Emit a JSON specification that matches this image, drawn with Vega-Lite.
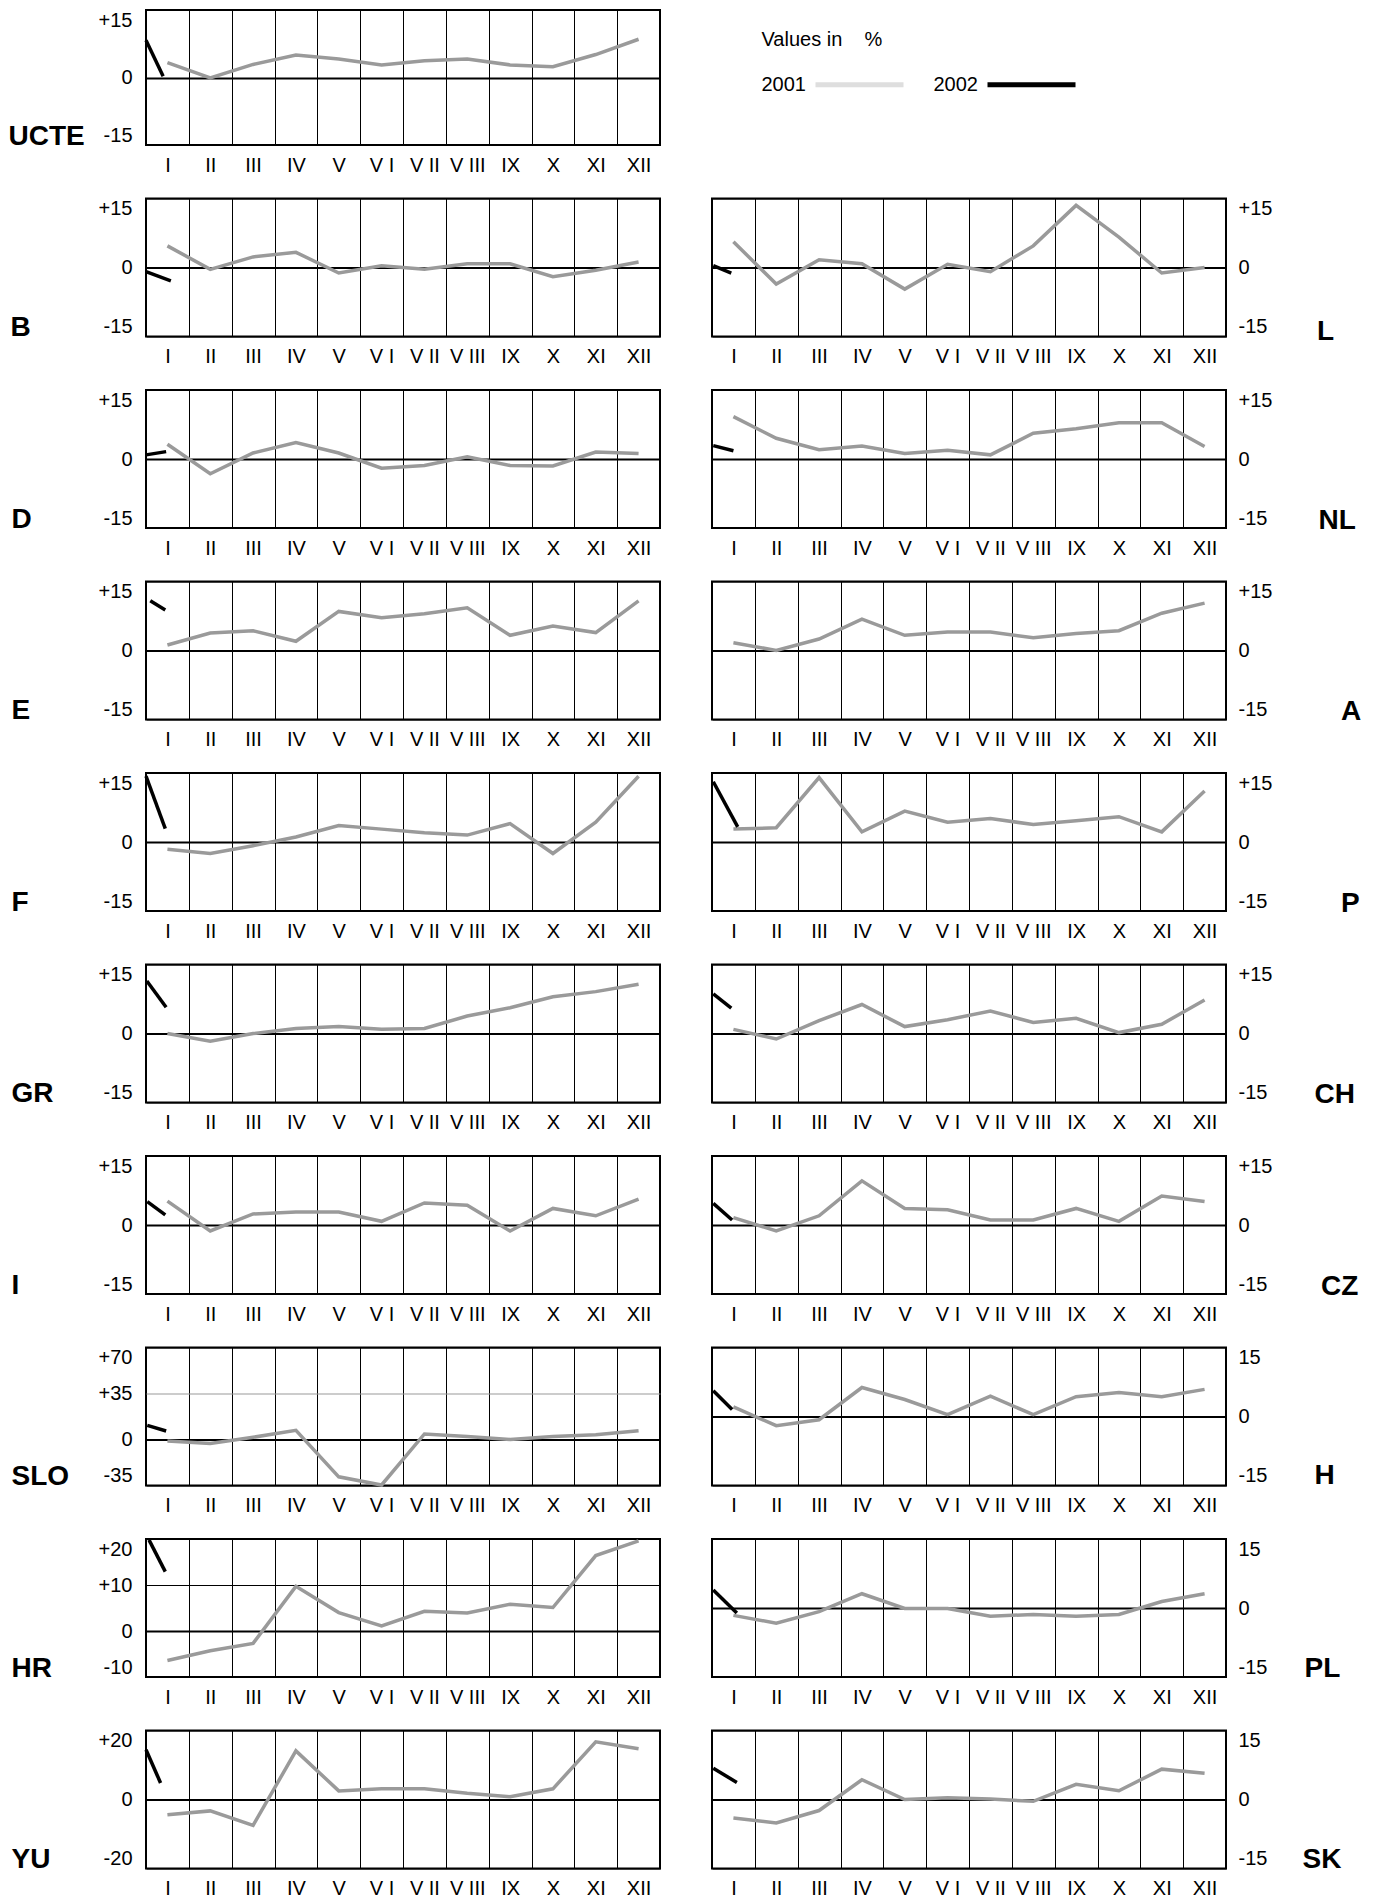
{
"$schema": "https://vega.github.io/schema/vega-lite/v6.json",
"padding": {"left": 7, "top": 9, "right": 0, "bottom": 0},
"background": "white",
"datasets": {
"d": [
{"c":"UCTE","s":"2001","m":1,"v":3.3},{"c":"UCTE","s":"2001","m":2,"v":-0.1},{"c":"UCTE","s":"2001","m":3,"v":2.9},{"c":"UCTE","s":"2001","m":4,"v":5.0},{"c":"UCTE","s":"2001","m":5,"v":4.1},{"c":"UCTE","s":"2001","m":6,"v":2.8},{"c":"UCTE","s":"2001","m":7,"v":3.7},{"c":"UCTE","s":"2001","m":8,"v":4.1},{"c":"UCTE","s":"2001","m":9,"v":2.8},{"c":"UCTE","s":"2001","m":10,"v":2.4},{"c":"UCTE","s":"2001","m":11,"v":5.1},{"c":"UCTE","s":"2001","m":12,"v":8.5},
{"c":"UCTE","s":"2002","m":0.5,"v":8.3},{"c":"UCTE","s":"2002","m":0.9,"v":0.3},
{"c":"B","s":"2001","m":1,"v":4.7},{"c":"B","s":"2001","m":2,"v":-0.4},{"c":"B","s":"2001","m":3,"v":2.3},{"c":"B","s":"2001","m":4,"v":3.3},{"c":"B","s":"2001","m":5,"v":-1.2},{"c":"B","s":"2001","m":6,"v":0.4},{"c":"B","s":"2001","m":7,"v":-0.4},{"c":"B","s":"2001","m":8,"v":0.8},{"c":"B","s":"2001","m":9,"v":0.8},{"c":"B","s":"2001","m":10,"v":-2.0},{"c":"B","s":"2001","m":11,"v":-0.6},{"c":"B","s":"2001","m":12,"v":1.2},
{"c":"B","s":"2002","m":0.5,"v":-0.9},{"c":"B","s":"2002","m":1.08,"v":-2.9},
{"c":"D","s":"2001","m":1,"v":3.2},{"c":"D","s":"2001","m":2,"v":-3.2},{"c":"D","s":"2001","m":3,"v":1.3},{"c":"D","s":"2001","m":4,"v":3.6},{"c":"D","s":"2001","m":5,"v":1.3},{"c":"D","s":"2001","m":6,"v":-2.0},{"c":"D","s":"2001","m":7,"v":-1.4},{"c":"D","s":"2001","m":8,"v":0.5},{"c":"D","s":"2001","m":9,"v":-1.4},{"c":"D","s":"2001","m":10,"v":-1.5},{"c":"D","s":"2001","m":11,"v":1.5},{"c":"D","s":"2001","m":12,"v":1.2},
{"c":"D","s":"2002","m":0.5,"v":0.9},{"c":"D","s":"2002","m":0.97,"v":1.6},
{"c":"E","s":"2001","m":1,"v":1.2},{"c":"E","s":"2001","m":2,"v":3.8},{"c":"E","s":"2001","m":3,"v":4.3},{"c":"E","s":"2001","m":4,"v":2.0},{"c":"E","s":"2001","m":5,"v":8.5},{"c":"E","s":"2001","m":6,"v":7.1},{"c":"E","s":"2001","m":7,"v":8.0},{"c":"E","s":"2001","m":8,"v":9.3},{"c":"E","s":"2001","m":9,"v":3.3},{"c":"E","s":"2001","m":10,"v":5.3},{"c":"E","s":"2001","m":11,"v":3.9},{"c":"E","s":"2001","m":12,"v":10.8},
{"c":"E","s":"2002","m":0.6,"v":10.8},{"c":"E","s":"2002","m":0.95,"v":8.8},
{"c":"F","s":"2001","m":1,"v":-1.6},{"c":"F","s":"2001","m":2,"v":-2.5},{"c":"F","s":"2001","m":3,"v":-0.8},{"c":"F","s":"2001","m":4,"v":1.1},{"c":"F","s":"2001","m":5,"v":3.6},{"c":"F","s":"2001","m":6,"v":2.8},{"c":"F","s":"2001","m":7,"v":2.0},{"c":"F","s":"2001","m":8,"v":1.5},{"c":"F","s":"2001","m":9,"v":4.0},{"c":"F","s":"2001","m":10,"v":-2.5},{"c":"F","s":"2001","m":11,"v":4.3},{"c":"F","s":"2001","m":12,"v":14.3},
{"c":"F","s":"2002","m":0.5,"v":14.3},{"c":"F","s":"2002","m":0.95,"v":2.9},
{"c":"GR","s":"2001","m":1,"v":0.0},{"c":"GR","s":"2001","m":2,"v":-1.7},{"c":"GR","s":"2001","m":3,"v":0.0},{"c":"GR","s":"2001","m":4,"v":1.1},{"c":"GR","s":"2001","m":5,"v":1.5},{"c":"GR","s":"2001","m":6,"v":0.9},{"c":"GR","s":"2001","m":7,"v":1.1},{"c":"GR","s":"2001","m":8,"v":3.8},{"c":"GR","s":"2001","m":9,"v":5.6},{"c":"GR","s":"2001","m":10,"v":8.0},{"c":"GR","s":"2001","m":11,"v":9.1},{"c":"GR","s":"2001","m":12,"v":10.7},
{"c":"GR","s":"2002","m":0.52,"v":11.4},{"c":"GR","s":"2002","m":0.97,"v":5.7},
{"c":"I","s":"2001","m":1,"v":5.2},{"c":"I","s":"2001","m":2,"v":-1.3},{"c":"I","s":"2001","m":3,"v":2.4},{"c":"I","s":"2001","m":4,"v":2.8},{"c":"I","s":"2001","m":5,"v":2.8},{"c":"I","s":"2001","m":6,"v":0.8},{"c":"I","s":"2001","m":7,"v":4.8},{"c":"I","s":"2001","m":8,"v":4.3},{"c":"I","s":"2001","m":9,"v":-1.3},{"c":"I","s":"2001","m":10,"v":3.6},{"c":"I","s":"2001","m":11,"v":2.0},{"c":"I","s":"2001","m":12,"v":5.6},
{"c":"I","s":"2002","m":0.53,"v":5.1},{"c":"I","s":"2002","m":0.95,"v":2.2},
{"c":"SLO","s":"2001","m":1,"v":-1.2},{"c":"SLO","s":"2001","m":2,"v":-3.0},{"c":"SLO","s":"2001","m":3,"v":1.7},{"c":"SLO","s":"2001","m":4,"v":7.0},{"c":"SLO","s":"2001","m":5,"v":-28.4},{"c":"SLO","s":"2001","m":6,"v":-34.6},{"c":"SLO","s":"2001","m":7,"v":4.2},{"c":"SLO","s":"2001","m":8,"v":2.2},{"c":"SLO","s":"2001","m":9,"v":0.0},{"c":"SLO","s":"2001","m":10,"v":2.2},{"c":"SLO","s":"2001","m":11,"v":3.7},{"c":"SLO","s":"2001","m":12,"v":6.7},
{"c":"SLO","s":"2002","m":0.53,"v":10.7},{"c":"SLO","s":"2002","m":0.97,"v":6.5},
{"c":"HR","s":"2001","m":1,"v":-6.4},{"c":"HR","s":"2001","m":2,"v":-4.3},{"c":"HR","s":"2001","m":3,"v":-2.7},{"c":"HR","s":"2001","m":4,"v":9.7},{"c":"HR","s":"2001","m":5,"v":4.0},{"c":"HR","s":"2001","m":6,"v":1.1},{"c":"HR","s":"2001","m":7,"v":4.3},{"c":"HR","s":"2001","m":8,"v":3.9},{"c":"HR","s":"2001","m":9,"v":5.8},{"c":"HR","s":"2001","m":10,"v":5.1},{"c":"HR","s":"2001","m":11,"v":16.4},{"c":"HR","s":"2001","m":12,"v":19.6},
{"c":"HR","s":"2002","m":0.57,"v":19.8},{"c":"HR","s":"2002","m":0.95,"v":12.9},
{"c":"YU","s":"2001","m":1,"v":-4.4},{"c":"YU","s":"2001","m":2,"v":-3.3},{"c":"YU","s":"2001","m":3,"v":-7.5},{"c":"YU","s":"2001","m":4,"v":14.1},{"c":"YU","s":"2001","m":5,"v":2.5},{"c":"YU","s":"2001","m":6,"v":3.1},{"c":"YU","s":"2001","m":7,"v":3.1},{"c":"YU","s":"2001","m":8,"v":1.8},{"c":"YU","s":"2001","m":9,"v":0.8},{"c":"YU","s":"2001","m":10,"v":3.1},{"c":"YU","s":"2001","m":11,"v":16.7},{"c":"YU","s":"2001","m":12,"v":14.7},
{"c":"YU","s":"2002","m":0.5,"v":14.4},{"c":"YU","s":"2002","m":0.84,"v":4.8},
{"c":"L","s":"2001","m":1,"v":5.6},{"c":"L","s":"2001","m":2,"v":-3.6},{"c":"L","s":"2001","m":3,"v":1.7},{"c":"L","s":"2001","m":4,"v":0.8},{"c":"L","s":"2001","m":5,"v":-4.7},{"c":"L","s":"2001","m":6,"v":0.7},{"c":"L","s":"2001","m":7,"v":-0.9},{"c":"L","s":"2001","m":8,"v":4.7},{"c":"L","s":"2001","m":9,"v":13.5},{"c":"L","s":"2001","m":10,"v":6.6},{"c":"L","s":"2001","m":11,"v":-1.2},{"c":"L","s":"2001","m":12,"v":0.0},
{"c":"L","s":"2002","m":0.53,"v":0.4},{"c":"L","s":"2002","m":0.95,"v":-1.2},
{"c":"NL","s":"2001","m":1,"v":9.2},{"c":"NL","s":"2001","m":2,"v":4.5},{"c":"NL","s":"2001","m":3,"v":2.0},{"c":"NL","s":"2001","m":4,"v":2.8},{"c":"NL","s":"2001","m":5,"v":1.2},{"c":"NL","s":"2001","m":6,"v":1.9},{"c":"NL","s":"2001","m":7,"v":0.9},{"c":"NL","s":"2001","m":8,"v":5.6},{"c":"NL","s":"2001","m":9,"v":6.6},{"c":"NL","s":"2001","m":10,"v":7.9},{"c":"NL","s":"2001","m":11,"v":7.9},{"c":"NL","s":"2001","m":12,"v":2.7},
{"c":"NL","s":"2002","m":0.53,"v":2.9},{"c":"NL","s":"2002","m":1.0,"v":1.8},
{"c":"A","s":"2001","m":1,"v":1.7},{"c":"A","s":"2001","m":2,"v":0.0},{"c":"A","s":"2001","m":3,"v":2.5},{"c":"A","s":"2001","m":4,"v":6.8},{"c":"A","s":"2001","m":5,"v":3.3},{"c":"A","s":"2001","m":6,"v":4.0},{"c":"A","s":"2001","m":7,"v":4.0},{"c":"A","s":"2001","m":8,"v":2.8},{"c":"A","s":"2001","m":9,"v":3.7},{"c":"A","s":"2001","m":10,"v":4.3},{"c":"A","s":"2001","m":11,"v":8.1},{"c":"A","s":"2001","m":12,"v":10.3},
{"c":"P","s":"2001","m":1,"v":2.8},{"c":"P","s":"2001","m":2,"v":3.1},{"c":"P","s":"2001","m":3,"v":14.0},{"c":"P","s":"2001","m":4,"v":2.2},{"c":"P","s":"2001","m":5,"v":6.7},{"c":"P","s":"2001","m":6,"v":4.3},{"c":"P","s":"2001","m":7,"v":5.1},{"c":"P","s":"2001","m":8,"v":3.8},{"c":"P","s":"2001","m":9,"v":4.6},{"c":"P","s":"2001","m":10,"v":5.5},{"c":"P","s":"2001","m":11,"v":2.2},{"c":"P","s":"2001","m":12,"v":11.1},
{"c":"P","s":"2002","m":0.53,"v":13.1},{"c":"P","s":"2002","m":1.1,"v":3.3},
{"c":"CH","s":"2001","m":1,"v":0.9},{"c":"CH","s":"2001","m":2,"v":-1.2},{"c":"CH","s":"2001","m":3,"v":2.8},{"c":"CH","s":"2001","m":4,"v":6.3},{"c":"CH","s":"2001","m":5,"v":1.5},{"c":"CH","s":"2001","m":6,"v":3.0},{"c":"CH","s":"2001","m":7,"v":4.9},{"c":"CH","s":"2001","m":8,"v":2.4},{"c":"CH","s":"2001","m":9,"v":3.3},{"c":"CH","s":"2001","m":10,"v":0.2},{"c":"CH","s":"2001","m":11,"v":2.0},{"c":"CH","s":"2001","m":12,"v":7.3},
{"c":"CH","s":"2002","m":0.53,"v":8.6},{"c":"CH","s":"2002","m":0.95,"v":5.5},
{"c":"CZ","s":"2001","m":1,"v":1.6},{"c":"CZ","s":"2001","m":2,"v":-1.3},{"c":"CZ","s":"2001","m":3,"v":2.0},{"c":"CZ","s":"2001","m":4,"v":9.6},{"c":"CZ","s":"2001","m":5,"v":3.6},{"c":"CZ","s":"2001","m":6,"v":3.3},{"c":"CZ","s":"2001","m":7,"v":1.1},{"c":"CZ","s":"2001","m":8,"v":1.1},{"c":"CZ","s":"2001","m":9,"v":3.6},{"c":"CZ","s":"2001","m":10,"v":0.8},{"c":"CZ","s":"2001","m":11,"v":6.3},{"c":"CZ","s":"2001","m":12,"v":5.1},
{"c":"CZ","s":"2002","m":0.53,"v":4.7},{"c":"CZ","s":"2002","m":0.97,"v":1.1},
{"c":"H","s":"2001","m":1,"v":2.1},{"c":"H","s":"2001","m":2,"v":-2.0},{"c":"H","s":"2001","m":3,"v":-0.7},{"c":"H","s":"2001","m":4,"v":6.3},{"c":"H","s":"2001","m":5,"v":3.7},{"c":"H","s":"2001","m":6,"v":0.4},{"c":"H","s":"2001","m":7,"v":4.4},{"c":"H","s":"2001","m":8,"v":0.4},{"c":"H","s":"2001","m":9,"v":4.3},{"c":"H","s":"2001","m":10,"v":5.2},{"c":"H","s":"2001","m":11,"v":4.3},{"c":"H","s":"2001","m":12,"v":5.9},
{"c":"H","s":"2002","m":0.53,"v":5.6},{"c":"H","s":"2002","m":0.97,"v":1.5},
{"c":"PL","s":"2001","m":1,"v":-1.6},{"c":"PL","s":"2001","m":2,"v":-3.3},{"c":"PL","s":"2001","m":3,"v":-0.8},{"c":"PL","s":"2001","m":4,"v":3.1},{"c":"PL","s":"2001","m":5,"v":-0.1},{"c":"PL","s":"2001","m":6,"v":-0.1},{"c":"PL","s":"2001","m":7,"v":-1.8},{"c":"PL","s":"2001","m":8,"v":-1.4},{"c":"PL","s":"2001","m":9,"v":-1.8},{"c":"PL","s":"2001","m":10,"v":-1.4},{"c":"PL","s":"2001","m":11,"v":1.4},{"c":"PL","s":"2001","m":12,"v":3.1},
{"c":"PL","s":"2002","m":0.53,"v":3.9},{"c":"PL","s":"2002","m":1.08,"v":-1.1},
{"c":"SK","s":"2001","m":1,"v":-4.0},{"c":"SK","s":"2001","m":2,"v":-5.1},{"c":"SK","s":"2001","m":3,"v":-2.4},{"c":"SK","s":"2001","m":4,"v":4.3},{"c":"SK","s":"2001","m":5,"v":0.0},{"c":"SK","s":"2001","m":6,"v":0.4},{"c":"SK","s":"2001","m":7,"v":0.1},{"c":"SK","s":"2001","m":8,"v":-0.4},{"c":"SK","s":"2001","m":9,"v":3.3},{"c":"SK","s":"2001","m":10,"v":1.9},{"c":"SK","s":"2001","m":11,"v":6.6},{"c":"SK","s":"2001","m":12,"v":5.7},
{"c":"SK","s":"2002","m":0.53,"v":6.8},{"c":"SK","s":"2002","m":1.08,"v":3.7}
]
},
"bounds": "flush",
"columns": 2,
"spacing": {"row": 53.5, "column": 52},
"resolve": {"scale": {"x": "independent", "y": "independent", "color": "shared"}, "axis": {"x": "independent", "y": "independent"}},
"concat": [
{"width":514,"height":135,"data":{"name":"d"},"transform":[{"filter":"datum.c === 'UCTE'"}],"mark":{"type":"line","strokeWidth":3.5},
 "encoding":{
  "x":{"field":"m","type":"quantitative","scale":{"domain":[0.5,12.5],"nice":false,"zero":false},"axis":{"values":[0.5,1.5,2.5,3.5,4.5,5.5,6.5,7.5,8.5,9.5,10.5,11.5],"labelExpr":"['I','II','III','IV','V','V I','V II','V III','IX','X','XI','XII'][round(datum.value-0.5)]","labelOffset":21.42,"title":null}},
  "y":{"field":"v","type":"quantitative","scale":{"domain":[-15,15],"nice":false,"zero":false},"axis":{"orient":"left","values":[-15,0,15],"labelExpr":"datum.value > 0 ? '+' + datum.value : '' + datum.value","gridWidth":{"condition":{"test":"datum.value === 0","value":2},"value":1},"title":"UCTE","titleX":-138,"titleY":134}},
  "color":{"field":"s","type":"nominal","scale":{"domain":["2001","2002"],"range":["#9a9a9a","#000000"]},
   "legend":{"orient":"none","legendX":615.5,"legendY":20,"direction":"horizontal","title":"Values in\u00a0\u00a0\u00a0\u00a0%","titleFontSize":20,"titleFontWeight":"normal","titleFont":"Liberation Sans","titleColor":"#000","titlePadding":-12,"symbolType":"stroke","symbolSize":7744,"symbolStrokeWidth":5,"symbolOffset":51.5,"labelAlign":"right","labelOffset":-100,"labelFontSize":20,"labelFont":"Liberation Sans","labelColor":"#000","columnPadding":20,"padding":0,
    "encode":{"symbols":{"update":{"strokeOpacity":{"signal":"datum.value === '2001' ? 0.33 : 1"},"strokeWidth":{"value":5}}}}}}
 }},
{"width":514,"height":135,"view":{"stroke":null},"data":{"values":[]},"mark":"point"},
 {"width":514,"height":138,"data":{"name":"d"},"transform":[{"filter":"datum.c === 'B'"}],"mark":{"type":"line","strokeWidth":3.5},
  "encoding":{
   "x":{"field":"m","type":"quantitative","scale":{"domain":[0.5,12.5],"nice":false,"zero":false},"axis":{"values":[0.5,1.5,2.5,3.5,4.5,5.5,6.5,7.5,8.5,9.5,10.5,11.5],"labelExpr":"['I','II','III','IV','V','V I','V II','V III','IX','X','XI','XII'][round(datum.value-0.5)]","labelOffset":21.42,"title":null}},
   "y":{"field":"v","type":"quantitative","scale":{"domain":[-15,15],"nice":false,"zero":false},"axis":{"orient":"left","values":[-15,0,15],"labelExpr":"datum.value > 0 ? '+' + datum.value : '' + datum.value","gridWidth":{"condition":{"test":"datum.value === 0","value":2},"value":1},"title":"B","titleX":-136,"titleY":137}},
   "color":{"field":"s","type":"nominal","scale":{"domain":["2001","2002"],"range":["#9a9a9a","#000000"]},"legend":null}}},
 {"width":514,"height":138,"data":{"name":"d"},"transform":[{"filter":"datum.c === 'L'"}],"mark":{"type":"line","strokeWidth":3.5},
  "encoding":{
   "x":{"field":"m","type":"quantitative","scale":{"domain":[0.5,12.5],"nice":false,"zero":false},"axis":{"values":[0.5,1.5,2.5,3.5,4.5,5.5,6.5,7.5,8.5,9.5,10.5,11.5],"labelExpr":"['I','II','III','IV','V','V I','V II','V III','IX','X','XI','XII'][round(datum.value-0.5)]","labelOffset":21.42,"title":null}},
   "y":{"field":"v","type":"quantitative","scale":{"domain":[-15,15],"nice":false,"zero":false},"axis":{"orient":"right","values":[-15,0,15],"labelExpr":"datum.value > 0 ? '+' + datum.value : '' + datum.value","gridWidth":{"condition":{"test":"datum.value === 0","value":2},"value":1},"title":"L","titleX":90.5,"titleY":141}},
   "color":{"field":"s","type":"nominal","scale":{"domain":["2001","2002"],"range":["#9a9a9a","#000000"]},"legend":null}}},
 {"width":514,"height":138,"data":{"name":"d"},"transform":[{"filter":"datum.c === 'D'"}],"mark":{"type":"line","strokeWidth":3.5},
  "encoding":{
   "x":{"field":"m","type":"quantitative","scale":{"domain":[0.5,12.5],"nice":false,"zero":false},"axis":{"values":[0.5,1.5,2.5,3.5,4.5,5.5,6.5,7.5,8.5,9.5,10.5,11.5],"labelExpr":"['I','II','III','IV','V','V I','V II','V III','IX','X','XI','XII'][round(datum.value-0.5)]","labelOffset":21.42,"title":null}},
   "y":{"field":"v","type":"quantitative","scale":{"domain":[-15,15],"nice":false,"zero":false},"axis":{"orient":"left","values":[-15,0,15],"labelExpr":"datum.value > 0 ? '+' + datum.value : '' + datum.value","gridWidth":{"condition":{"test":"datum.value === 0","value":2},"value":1},"title":"D","titleX":-135,"titleY":137}},
   "color":{"field":"s","type":"nominal","scale":{"domain":["2001","2002"],"range":["#9a9a9a","#000000"]},"legend":null}}},
 {"width":514,"height":138,"data":{"name":"d"},"transform":[{"filter":"datum.c === 'NL'"}],"mark":{"type":"line","strokeWidth":3.5},
  "encoding":{
   "x":{"field":"m","type":"quantitative","scale":{"domain":[0.5,12.5],"nice":false,"zero":false},"axis":{"values":[0.5,1.5,2.5,3.5,4.5,5.5,6.5,7.5,8.5,9.5,10.5,11.5],"labelExpr":"['I','II','III','IV','V','V I','V II','V III','IX','X','XI','XII'][round(datum.value-0.5)]","labelOffset":21.42,"title":null}},
   "y":{"field":"v","type":"quantitative","scale":{"domain":[-15,15],"nice":false,"zero":false},"axis":{"orient":"right","values":[-15,0,15],"labelExpr":"datum.value > 0 ? '+' + datum.value : '' + datum.value","gridWidth":{"condition":{"test":"datum.value === 0","value":2},"value":1},"title":"NL","titleX":92,"titleY":138}},
   "color":{"field":"s","type":"nominal","scale":{"domain":["2001","2002"],"range":["#9a9a9a","#000000"]},"legend":null}}},
 {"width":514,"height":138,"data":{"name":"d"},"transform":[{"filter":"datum.c === 'E'"}],"mark":{"type":"line","strokeWidth":3.5},
  "encoding":{
   "x":{"field":"m","type":"quantitative","scale":{"domain":[0.5,12.5],"nice":false,"zero":false},"axis":{"values":[0.5,1.5,2.5,3.5,4.5,5.5,6.5,7.5,8.5,9.5,10.5,11.5],"labelExpr":"['I','II','III','IV','V','V I','V II','V III','IX','X','XI','XII'][round(datum.value-0.5)]","labelOffset":21.42,"title":null}},
   "y":{"field":"v","type":"quantitative","scale":{"domain":[-15,15],"nice":false,"zero":false},"axis":{"orient":"left","values":[-15,0,15],"labelExpr":"datum.value > 0 ? '+' + datum.value : '' + datum.value","gridWidth":{"condition":{"test":"datum.value === 0","value":2},"value":1},"title":"E","titleX":-135,"titleY":137}},
   "color":{"field":"s","type":"nominal","scale":{"domain":["2001","2002"],"range":["#9a9a9a","#000000"]},"legend":null}}},
 {"width":514,"height":138,"data":{"name":"d"},"transform":[{"filter":"datum.c === 'A'"}],"mark":{"type":"line","strokeWidth":3.5},
  "encoding":{
   "x":{"field":"m","type":"quantitative","scale":{"domain":[0.5,12.5],"nice":false,"zero":false},"axis":{"values":[0.5,1.5,2.5,3.5,4.5,5.5,6.5,7.5,8.5,9.5,10.5,11.5],"labelExpr":"['I','II','III','IV','V','V I','V II','V III','IX','X','XI','XII'][round(datum.value-0.5)]","labelOffset":21.42,"title":null}},
   "y":{"field":"v","type":"quantitative","scale":{"domain":[-15,15],"nice":false,"zero":false},"axis":{"orient":"right","values":[-15,0,15],"labelExpr":"datum.value > 0 ? '+' + datum.value : '' + datum.value","gridWidth":{"condition":{"test":"datum.value === 0","value":2},"value":1},"title":"A","titleX":114.5,"titleY":138}},
   "color":{"field":"s","type":"nominal","scale":{"domain":["2001","2002"],"range":["#9a9a9a","#000000"]},"legend":null}}},
 {"width":514,"height":138,"data":{"name":"d"},"transform":[{"filter":"datum.c === 'F'"}],"mark":{"type":"line","strokeWidth":3.5},
  "encoding":{
   "x":{"field":"m","type":"quantitative","scale":{"domain":[0.5,12.5],"nice":false,"zero":false},"axis":{"values":[0.5,1.5,2.5,3.5,4.5,5.5,6.5,7.5,8.5,9.5,10.5,11.5],"labelExpr":"['I','II','III','IV','V','V I','V II','V III','IX','X','XI','XII'][round(datum.value-0.5)]","labelOffset":21.42,"title":null}},
   "y":{"field":"v","type":"quantitative","scale":{"domain":[-15,15],"nice":false,"zero":false},"axis":{"orient":"left","values":[-15,0,15],"labelExpr":"datum.value > 0 ? '+' + datum.value : '' + datum.value","gridWidth":{"condition":{"test":"datum.value === 0","value":2},"value":1},"title":"F","titleX":-135,"titleY":137}},
   "color":{"field":"s","type":"nominal","scale":{"domain":["2001","2002"],"range":["#9a9a9a","#000000"]},"legend":null}}},
 {"width":514,"height":138,"data":{"name":"d"},"transform":[{"filter":"datum.c === 'P'"}],"mark":{"type":"line","strokeWidth":3.5},
  "encoding":{
   "x":{"field":"m","type":"quantitative","scale":{"domain":[0.5,12.5],"nice":false,"zero":false},"axis":{"values":[0.5,1.5,2.5,3.5,4.5,5.5,6.5,7.5,8.5,9.5,10.5,11.5],"labelExpr":"['I','II','III','IV','V','V I','V II','V III','IX','X','XI','XII'][round(datum.value-0.5)]","labelOffset":21.42,"title":null}},
   "y":{"field":"v","type":"quantitative","scale":{"domain":[-15,15],"nice":false,"zero":false},"axis":{"orient":"right","values":[-15,0,15],"labelExpr":"datum.value > 0 ? '+' + datum.value : '' + datum.value","gridWidth":{"condition":{"test":"datum.value === 0","value":2},"value":1},"title":"P","titleX":114.5,"titleY":138}},
   "color":{"field":"s","type":"nominal","scale":{"domain":["2001","2002"],"range":["#9a9a9a","#000000"]},"legend":null},
   "strokeWidth":{"condition":{"test":"datum.s === '2002'","value":1.8},"value":3.5}}},
 {"width":514,"height":138,"data":{"name":"d"},"transform":[{"filter":"datum.c === 'GR'"}],"mark":{"type":"line","strokeWidth":3.5},
  "encoding":{
   "x":{"field":"m","type":"quantitative","scale":{"domain":[0.5,12.5],"nice":false,"zero":false},"axis":{"values":[0.5,1.5,2.5,3.5,4.5,5.5,6.5,7.5,8.5,9.5,10.5,11.5],"labelExpr":"['I','II','III','IV','V','V I','V II','V III','IX','X','XI','XII'][round(datum.value-0.5)]","labelOffset":21.42,"title":null}},
   "y":{"field":"v","type":"quantitative","scale":{"domain":[-15,15],"nice":false,"zero":false},"axis":{"orient":"left","values":[-15,0,15],"labelExpr":"datum.value > 0 ? '+' + datum.value : '' + datum.value","gridWidth":{"condition":{"test":"datum.value === 0","value":2},"value":1},"title":"GR","titleX":-135,"titleY":137}},
   "color":{"field":"s","type":"nominal","scale":{"domain":["2001","2002"],"range":["#9a9a9a","#000000"]},"legend":null},
   "strokeWidth":{"condition":{"test":"datum.s === '2002'","value":1.8},"value":3.5}}},
 {"width":514,"height":138,"data":{"name":"d"},"transform":[{"filter":"datum.c === 'CH'"}],"mark":{"type":"line","strokeWidth":3.5},
  "encoding":{
   "x":{"field":"m","type":"quantitative","scale":{"domain":[0.5,12.5],"nice":false,"zero":false},"axis":{"values":[0.5,1.5,2.5,3.5,4.5,5.5,6.5,7.5,8.5,9.5,10.5,11.5],"labelExpr":"['I','II','III','IV','V','V I','V II','V III','IX','X','XI','XII'][round(datum.value-0.5)]","labelOffset":21.42,"title":null}},
   "y":{"field":"v","type":"quantitative","scale":{"domain":[-15,15],"nice":false,"zero":false},"axis":{"orient":"right","values":[-15,0,15],"labelExpr":"datum.value > 0 ? '+' + datum.value : '' + datum.value","gridWidth":{"condition":{"test":"datum.value === 0","value":2},"value":1},"title":"CH","titleX":88,"titleY":138}},
   "color":{"field":"s","type":"nominal","scale":{"domain":["2001","2002"],"range":["#9a9a9a","#000000"]},"legend":null}}},
 {"width":514,"height":138,"data":{"name":"d"},"transform":[{"filter":"datum.c === 'I'"}],"mark":{"type":"line","strokeWidth":3.5},
  "encoding":{
   "x":{"field":"m","type":"quantitative","scale":{"domain":[0.5,12.5],"nice":false,"zero":false},"axis":{"values":[0.5,1.5,2.5,3.5,4.5,5.5,6.5,7.5,8.5,9.5,10.5,11.5],"labelExpr":"['I','II','III','IV','V','V I','V II','V III','IX','X','XI','XII'][round(datum.value-0.5)]","labelOffset":21.42,"title":null}},
   "y":{"field":"v","type":"quantitative","scale":{"domain":[-15,15],"nice":false,"zero":false},"axis":{"orient":"left","values":[-15,0,15],"labelExpr":"datum.value > 0 ? '+' + datum.value : '' + datum.value","gridWidth":{"condition":{"test":"datum.value === 0","value":2},"value":1},"title":"I","titleX":-135,"titleY":137}},
   "color":{"field":"s","type":"nominal","scale":{"domain":["2001","2002"],"range":["#9a9a9a","#000000"]},"legend":null}}},
 {"width":514,"height":138,"data":{"name":"d"},"transform":[{"filter":"datum.c === 'CZ'"}],"mark":{"type":"line","strokeWidth":3.5},
  "encoding":{
   "x":{"field":"m","type":"quantitative","scale":{"domain":[0.5,12.5],"nice":false,"zero":false},"axis":{"values":[0.5,1.5,2.5,3.5,4.5,5.5,6.5,7.5,8.5,9.5,10.5,11.5],"labelExpr":"['I','II','III','IV','V','V I','V II','V III','IX','X','XI','XII'][round(datum.value-0.5)]","labelOffset":21.42,"title":null}},
   "y":{"field":"v","type":"quantitative","scale":{"domain":[-15,15],"nice":false,"zero":false},"axis":{"orient":"right","values":[-15,0,15],"labelExpr":"datum.value > 0 ? '+' + datum.value : '' + datum.value","gridWidth":{"condition":{"test":"datum.value === 0","value":2},"value":1},"title":"CZ","titleX":94.5,"titleY":138}},
   "color":{"field":"s","type":"nominal","scale":{"domain":["2001","2002"],"range":["#9a9a9a","#000000"]},"legend":null}}},
 {"width":514,"height":138,"data":{"name":"d"},"transform":[{"filter":"datum.c === 'SLO'"}],"mark":{"type":"line","strokeWidth":3.5},
  "encoding":{
   "x":{"field":"m","type":"quantitative","scale":{"domain":[0.5,12.5],"nice":false,"zero":false},"axis":{"values":[0.5,1.5,2.5,3.5,4.5,5.5,6.5,7.5,8.5,9.5,10.5,11.5],"labelExpr":"['I','II','III','IV','V','V I','V II','V III','IX','X','XI','XII'][round(datum.value-0.5)]","labelOffset":21.42,"title":null}},
   "y":{"field":"v","type":"quantitative","scale":{"domain":[-35,70],"nice":false,"zero":false},"axis":{"orient":"left","values":[-35,0,35,70],"labelExpr":"datum.value > 0 ? '+' + datum.value : '' + datum.value","gridWidth":{"condition":{"test":"datum.value === 0","value":2},"value":1},"gridColor":{"condition":{"test":"datum.value === 35","value":"#999999"},"value":"#000000"},"title":"SLO","titleX":-135,"titleY":137}},
   "color":{"field":"s","type":"nominal","scale":{"domain":["2001","2002"],"range":["#9a9a9a","#000000"]},"legend":null}}},
 {"width":514,"height":138,"data":{"name":"d"},"transform":[{"filter":"datum.c === 'H'"}],"mark":{"type":"line","strokeWidth":3.5},
  "encoding":{
   "x":{"field":"m","type":"quantitative","scale":{"domain":[0.5,12.5],"nice":false,"zero":false},"axis":{"values":[0.5,1.5,2.5,3.5,4.5,5.5,6.5,7.5,8.5,9.5,10.5,11.5],"labelExpr":"['I','II','III','IV','V','V I','V II','V III','IX','X','XI','XII'][round(datum.value-0.5)]","labelOffset":21.42,"title":null}},
   "y":{"field":"v","type":"quantitative","scale":{"domain":[-15,15],"nice":false,"zero":false},"axis":{"orient":"right","values":[-15,0,15],"labelExpr":"'' + datum.value","gridWidth":{"condition":{"test":"datum.value === 0","value":2},"value":1},"title":"H","titleX":88,"titleY":136}},
   "color":{"field":"s","type":"nominal","scale":{"domain":["2001","2002"],"range":["#9a9a9a","#000000"]},"legend":null}}},
 {"width":514,"height":138,"data":{"name":"d"},"transform":[{"filter":"datum.c === 'HR'"}],"mark":{"type":"line","strokeWidth":3.5},
  "encoding":{
   "x":{"field":"m","type":"quantitative","scale":{"domain":[0.5,12.5],"nice":false,"zero":false},"axis":{"values":[0.5,1.5,2.5,3.5,4.5,5.5,6.5,7.5,8.5,9.5,10.5,11.5],"labelExpr":"['I','II','III','IV','V','V I','V II','V III','IX','X','XI','XII'][round(datum.value-0.5)]","labelOffset":21.42,"title":null}},
   "y":{"field":"v","type":"quantitative","scale":{"domain":[-10,20],"nice":false,"zero":false},"axis":{"orient":"left","values":[-10,0,10,20],"labelExpr":"datum.value > 0 ? '+' + datum.value : '' + datum.value","gridWidth":{"condition":{"test":"datum.value === 0","value":2},"value":1},"title":"HR","titleX":-135,"titleY":137}},
   "color":{"field":"s","type":"nominal","scale":{"domain":["2001","2002"],"range":["#9a9a9a","#000000"]},"legend":null}}},
 {"width":514,"height":138,"data":{"name":"d"},"transform":[{"filter":"datum.c === 'PL'"}],"mark":{"type":"line","strokeWidth":3.5},
  "encoding":{
   "x":{"field":"m","type":"quantitative","scale":{"domain":[0.5,12.5],"nice":false,"zero":false},"axis":{"values":[0.5,1.5,2.5,3.5,4.5,5.5,6.5,7.5,8.5,9.5,10.5,11.5],"labelExpr":"['I','II','III','IV','V','V I','V II','V III','IX','X','XI','XII'][round(datum.value-0.5)]","labelOffset":21.42,"title":null}},
   "y":{"field":"v","type":"quantitative","scale":{"domain":[-15,15],"nice":false,"zero":false},"axis":{"orient":"right","values":[-15,0,15],"labelExpr":"'' + datum.value","gridWidth":{"condition":{"test":"datum.value === 0","value":2},"value":1},"title":"PL","titleX":78,"titleY":137}},
   "color":{"field":"s","type":"nominal","scale":{"domain":["2001","2002"],"range":["#9a9a9a","#000000"]},"legend":null}}},
 {"width":514,"height":138,"data":{"name":"d"},"transform":[{"filter":"datum.c === 'YU'"}],"mark":{"type":"line","strokeWidth":3.5},
  "encoding":{
   "x":{"field":"m","type":"quantitative","scale":{"domain":[0.5,12.5],"nice":false,"zero":false},"axis":{"values":[0.5,1.5,2.5,3.5,4.5,5.5,6.5,7.5,8.5,9.5,10.5,11.5],"labelExpr":"['I','II','III','IV','V','V I','V II','V III','IX','X','XI','XII'][round(datum.value-0.5)]","labelOffset":21.42,"title":null}},
   "y":{"field":"v","type":"quantitative","scale":{"domain":[-20,20],"nice":false,"zero":false},"axis":{"orient":"left","values":[-20,0,20],"labelExpr":"datum.value > 0 ? '+' + datum.value : '' + datum.value","gridWidth":{"condition":{"test":"datum.value === 0","value":2},"value":1},"title":"YU","titleX":-135,"titleY":137}},
   "color":{"field":"s","type":"nominal","scale":{"domain":["2001","2002"],"range":["#9a9a9a","#000000"]},"legend":null}}},
 {"width":514,"height":138,"data":{"name":"d"},"transform":[{"filter":"datum.c === 'SK'"}],"mark":{"type":"line","strokeWidth":3.5},
  "encoding":{
   "x":{"field":"m","type":"quantitative","scale":{"domain":[0.5,12.5],"nice":false,"zero":false},"axis":{"values":[0.5,1.5,2.5,3.5,4.5,5.5,6.5,7.5,8.5,9.5,10.5,11.5],"labelExpr":"['I','II','III','IV','V','V I','V II','V III','IX','X','XI','XII'][round(datum.value-0.5)]","labelOffset":21.42,"title":null}},
   "y":{"field":"v","type":"quantitative","scale":{"domain":[-15,15],"nice":false,"zero":false},"axis":{"orient":"right","values":[-15,0,15],"labelExpr":"'' + datum.value","gridWidth":{"condition":{"test":"datum.value === 0","value":2},"value":1},"title":"SK","titleX":76,"titleY":137}},
   "color":{"field":"s","type":"nominal","scale":{"domain":["2001","2002"],"range":["#9a9a9a","#000000"]},"legend":null}}}
],
"config": {
 "view": {"stroke": "#000000", "strokeWidth": 2},
 "axis": {"labelColor": "#000000", "titleColor": "#000000", "ticks": false, "tickSize": 0, "domain": false, "grid": true, "gridColor": "#000000", "labelFont": "Liberation Sans", "labelFontSize": 20, "titleFont": "Liberation Sans", "titleFontSize": 28, "titleFontWeight": "bold", "titleAngle": 0, "titleAlign": "left", "titleBaseline": "alphabetic", "labelOverlap": false},
 "axisX": {"labelFont": "Liberation Sans Narrow, Arial Narrow, Liberation Sans", "labelFlush": false, "labelPadding": 10, "gridWidth": 1},
 "axisLeft": {"labelPadding": 14, "labelFlush": true},
 "axisRight": {"labelPadding": 12, "labelFlush": true}
}
}
